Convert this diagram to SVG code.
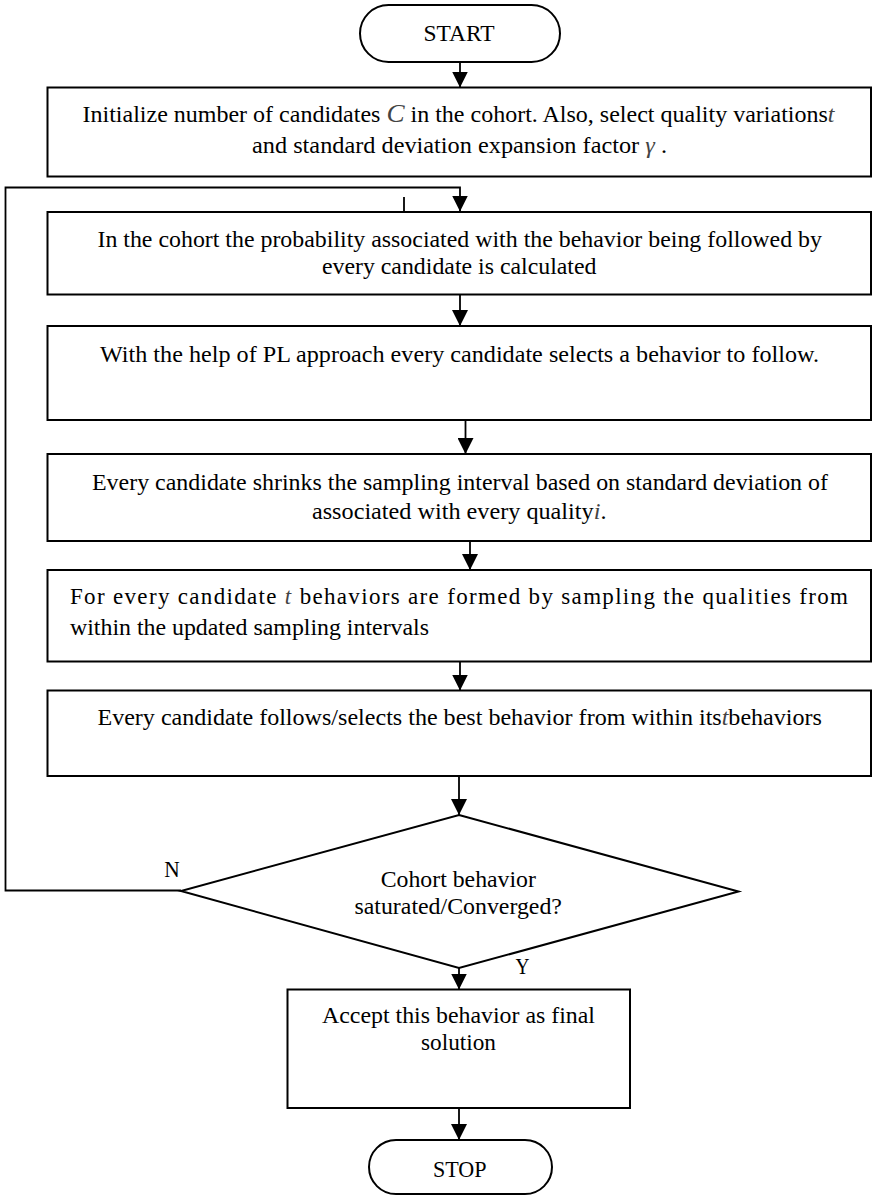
<svg xmlns="http://www.w3.org/2000/svg" width="874" height="1197" viewBox="0 0 874 1197">
<style>
.shape{fill:#fff;stroke:#000;stroke-width:2}
.conn{fill:none;stroke:#000;stroke-width:1.8}
text{font-family:"Liberation Serif","Times New Roman",serif;font-size:23px;fill:#000}
.c{text-anchor:middle}
.v{font-style:italic;fill:#444}
</style>
<defs>
<marker id="ah" viewBox="0 0 16 16" refX="16" refY="8" markerWidth="16" markerHeight="16" markerUnits="userSpaceOnUse" orient="auto">
<path d="M0,0 L16,8 L0,16 z" fill="#000"/>
</marker>
</defs>
<rect width="874" height="1197" fill="#fff"/>
<g id="connectors">
<line class="conn" x1="460" y1="62" x2="460" y2="87.5" marker-end="url(#ah)"/>
<polyline class="conn" points="181,890.5 5.5,890.5 5.5,187.5 460,187.5 460,211.5" marker-end="url(#ah)"/>
<line class="conn" x1="404" y1="197" x2="404" y2="212"/>
<line class="conn" x1="460" y1="295" x2="460" y2="326" marker-end="url(#ah)"/>
<line class="conn" x1="465.5" y1="420" x2="465.5" y2="454" marker-end="url(#ah)"/>
<line class="conn" x1="470" y1="541" x2="470" y2="570" marker-end="url(#ah)"/>
<line class="conn" x1="460" y1="661.5" x2="460" y2="690.5" marker-end="url(#ah)"/>
<line class="conn" x1="459" y1="776" x2="459" y2="815" marker-end="url(#ah)"/>
<line class="conn" x1="459" y1="968" x2="459" y2="989.5" marker-end="url(#ah)"/>
<line class="conn" x1="459" y1="1108" x2="459" y2="1140" marker-end="url(#ah)"/>
<text x="172" y="877" class="c" textLength="15.5" lengthAdjust="spacingAndGlyphs">N</text>
<text x="522.5" y="973.5" class="c" textLength="14" lengthAdjust="spacingAndGlyphs">Y</text>
</g>
<g id="start">
<rect class="shape" x="360" y="5" width="200" height="57" rx="28.5"/>
<text x="459" y="40.5" class="c" textLength="71" lengthAdjust="spacingAndGlyphs">START</text>
</g>
<g id="init">
<rect class="shape" x="47.5" y="87.5" width="823.5" height="89"/>
<text x="458.5" y="122" class="c" textLength="752" lengthAdjust="spacingAndGlyphs">Initialize number of candidates <tspan class="v" font-size="26">C</tspan>  in the cohort. Also, select quality variations<tspan class="v">t</tspan></text>
<text x="459.5" y="153" class="c" textLength="415" lengthAdjust="spacingAndGlyphs">and standard deviation expansion factor <tspan class="v">γ</tspan>  .</text>
</g>
<g id="probability">
<rect class="shape" x="47.5" y="212" width="823.5" height="82.5"/>
<text x="459.7" y="246.5" class="c" textLength="724.5" lengthAdjust="spacingAndGlyphs">In the cohort the probability associated with the behavior being followed by</text>
<text x="459.2" y="274" class="c" textLength="274.5" lengthAdjust="spacingAndGlyphs">every candidate is calculated</text>
</g>
<g id="select">
<rect class="shape" x="47.5" y="326" width="823.5" height="94"/>
<text x="459.5" y="361.5" class="c" textLength="719" lengthAdjust="spacingAndGlyphs">With the help of  PL approach every candidate selects a behavior to follow.</text>
</g>
<g id="shrink">
<rect class="shape" x="47.5" y="454" width="823.5" height="87"/>
<text x="460" y="489.5" class="c" textLength="736" lengthAdjust="spacingAndGlyphs">Every candidate shrinks the sampling interval based on standard deviation of</text>
<text x="459.2" y="518.5" class="c" textLength="294.5" lengthAdjust="spacingAndGlyphs">associated with every quality<tspan class="v">i</tspan>.</text>
</g>
<g id="form">
<rect class="shape" x="47.5" y="570" width="823.5" height="91.5"/>
<text x="70" y="604" textLength="778" lengthAdjust="spacing">For every candidate <tspan class="v">t</tspan> behaviors are formed by sampling the qualities from</text>
<text x="70" y="635" textLength="359" lengthAdjust="spacingAndGlyphs">within the updated sampling intervals</text>
</g>
<g id="follow">
<rect class="shape" x="47.5" y="690.5" width="823.5" height="85.5"/>
<text x="459.7" y="725" class="c" textLength="724.5" lengthAdjust="spacingAndGlyphs">Every candidate follows/selects the best behavior from within its<tspan class="v">t</tspan>behaviors</text>
</g>
<g id="decision">
<polygon class="shape" points="459,815 738.5,891.5 459,968 181,891"/>
<text x="458.3" y="887" class="c" textLength="155.3" lengthAdjust="spacingAndGlyphs">Cohort behavior</text>
<text x="458.2" y="914" class="c" textLength="207.5" lengthAdjust="spacingAndGlyphs">saturated/Converged?</text>
</g>
<g id="accept">
<rect class="shape" x="287.5" y="989.5" width="342.5" height="118.5"/>
<text x="458.5" y="1022.5" class="c" textLength="273" lengthAdjust="spacingAndGlyphs">Accept this behavior as final</text>
<text x="458.5" y="1050" class="c" textLength="75" lengthAdjust="spacingAndGlyphs">solution</text>
</g>
<g id="stop">
<rect class="shape" x="369" y="1140" width="183" height="54" rx="27"/>
<text x="459.8" y="1176.5" class="c" textLength="53.6" lengthAdjust="spacingAndGlyphs">STOP</text>
</g>
</svg>
